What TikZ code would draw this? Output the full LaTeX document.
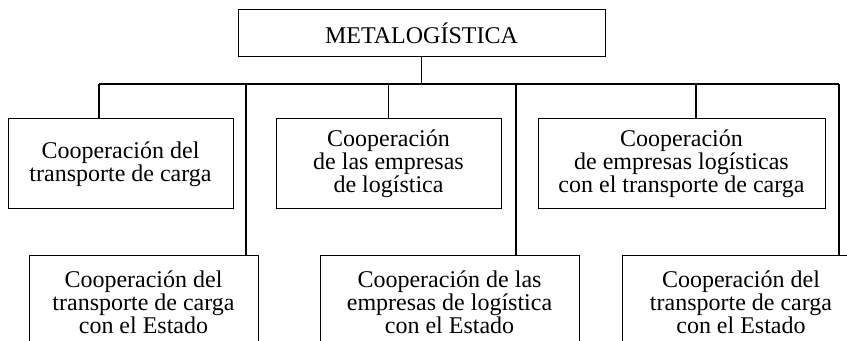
\documentclass[tikz,border=0pt]{standalone}
\usepackage{fontspec}
\setmainfont{Liberation Serif}
\usepackage{tikz}

\begin{document}
\begin{tikzpicture}[x=0.5pt,y=-0.5pt]
    \path[use as bounding box,clip] (0,0) rectangle (847,341);
    \tikzstyle{every node}=[font=\fontsize{12}{11.6}\selectfont,align=center]
    \tikzstyle{caja}=[draw,line width=.5pt,inner sep=0pt]
    \tikzstyle{rama}=[line width=.8pt]
    \node[caja,minimum width=183.5pt,minimum height=23.5pt] (M) at (421.5,33.5) {METALOGÍSTICA};
    %%
    \node[caja,minimum width=112.5pt,minimum height=45pt] (A) at (120.5,164) {Cooperación del\\transporte de carga};
    \node[caja,minimum width=112.5pt,minimum height=45pt] (B) at (388.5,164) {Cooperación\\de las empresas\\de logística};
    \node[caja,minimum width=143.5pt,minimum height=45pt] (C) at (681.5,164) {Cooperación\\de empresas logísticas\\con el transporte de carga};
    %%
    \node[caja,anchor=north,minimum width=114.5pt,minimum height=47pt] (D) at (143.5,255) {Cooperación del\\transporte de carga\\con el Estado};
    \node[caja,anchor=north,minimum width=129.5pt,minimum height=47pt] (E) at (449.5,255) {Cooperación de las\\empresas de logística\\con el Estado};
    \node[caja,anchor=north,minimum width=119pt,minimum height=47pt] (F) at (741,255) {Cooperación del\\transporte de carga\\con el Estado};
    %%
    \coordinate (T) at (421,84);
    \coordinate (L) at (99,84);
    \coordinate (R) at (839,84);
    \coordinate (c1) at (696,84);
    \coordinate (d1) at (246,84);
    \coordinate (e1) at (516,84);
    \draw[rama] (M.south) -- (M.south |- T);
    \draw[rama] (L) -- (R);
    \draw[rama] (L) -- (L |- A.north); \draw[rama] (B.north) -- (B.north |- T);
    \draw[rama] (c1) -- (c1 |- C.north);
    \draw[rama] (d1) -- (d1 |- D.north); \draw[rama] (e1) -- (e1 |- E.north);
    \draw[rama] (R) -- (R |- F.north);
\end{tikzpicture}
\end{document}
